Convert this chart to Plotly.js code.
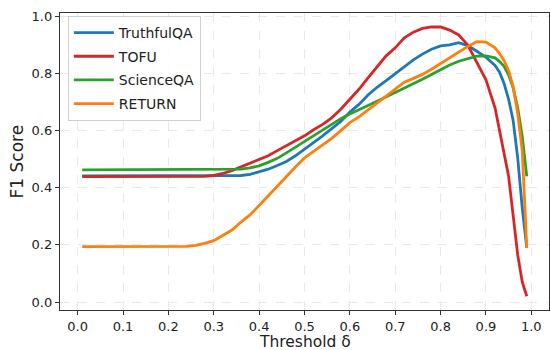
<!DOCTYPE html>
<html>
<head>
<meta charset="utf-8">
<script src="https://cdn.plot.ly/plotly-3.0.1.min.js"></script>
<style>html,body{margin:0;padding:0;background:#fff}#chart{width:550px;height:350px}</style>
</head>
<body>
<div id="chart"></div>
<script>
const thresholds = [0.01,0.05,0.10,0.15,0.20,0.22,0.24,0.26,0.28,0.30,0.32,0.34,0.36,0.38,0.40,0.42,0.44,0.46,0.48,0.50,0.52,0.54,0.56,0.58,0.60,0.62,0.64,0.66,0.68,0.70,0.72,0.74,0.76,0.78,0.80,0.82,0.84,0.86,0.88,0.90,0.92,0.93,0.94,0.95,0.96,0.97,0.98,0.99];

const truthfulQA = [0.442,0.442,0.442,0.442,0.442,0.442,0.442,0.442,0.442,0.442,0.442,0.442,0.443,0.447,0.455,0.465,0.478,0.492,0.512,0.535,0.557,0.582,0.607,0.632,0.665,0.692,0.725,0.752,0.775,0.800,0.825,0.848,0.868,0.885,0.897,0.900,0.908,0.898,0.878,0.857,0.828,0.805,0.765,0.710,0.635,0.505,0.330,0.190];

const tofu = [0.439,0.439,0.439,0.439,0.439,0.439,0.439,0.439,0.440,0.443,0.450,0.460,0.473,0.485,0.497,0.512,0.530,0.548,0.565,0.582,0.603,0.622,0.645,0.675,0.710,0.745,0.785,0.825,0.862,0.890,0.925,0.945,0.958,0.963,0.963,0.952,0.935,0.900,0.840,0.778,0.680,0.595,0.520,0.440,0.310,0.165,0.070,0.020];

const scienceQA = [0.463,0.463,0.463,0.463,0.463,0.463,0.463,0.463,0.463,0.463,0.463,0.463,0.465,0.470,0.477,0.489,0.503,0.522,0.542,0.563,0.585,0.605,0.625,0.642,0.658,0.672,0.688,0.703,0.718,0.733,0.748,0.763,0.780,0.797,0.815,0.830,0.843,0.853,0.861,0.862,0.855,0.842,0.825,0.795,0.750,0.680,0.580,0.440];

const returnSet = [0.194,0.194,0.194,0.194,0.194,0.194,0.195,0.198,0.205,0.215,0.233,0.252,0.280,0.305,0.338,0.372,0.408,0.440,0.473,0.505,0.527,0.550,0.573,0.600,0.628,0.648,0.672,0.695,0.720,0.745,0.770,0.783,0.797,0.815,0.835,0.858,0.877,0.895,0.912,0.910,0.890,0.870,0.845,0.810,0.754,0.660,0.530,0.190];

const seriesNames = ["TruthfulQA","TOFU","ScienceQA","RETURN"];
const seriesColors = ["#1f77b4","#d62728","#2ca02c","#ff7f0e"];
const seriesValues = [truthfulQA, tofu, scienceQA, returnSet];

const xTicks = [0,0.1,0.2,0.3,0.4,0.5,0.6,0.7,0.8,0.9,1.0];
const yTicks = [0,0.2,0.4,0.6,0.8,1.0];
const xTitle = "Threshold δ";
const yTitle = "F1 Score";

const traces = seriesValues.map((vals, i) => ({
  x: thresholds, y: vals, type: "scatter", mode: "lines",
  name: seriesNames[i], legendgroup: "g" + i,
  line: {color: seriesColors[i], width: 2.8}
}));

const font = "DejaVu Sans, sans-serif";
const axisCommon = {
  showline: true, mirror: true, linecolor: "#333", linewidth: 1.2,
  ticks: "outside", ticklen: 4, tickwidth: 1, tickcolor: "#333",
  showgrid: true, gridcolor: "#e3e3e3", gridwidth: 0.8, griddash: "dash",
  zeroline: false, tickfont: {family: font, size: 13, color: "#222"},
  tickformat: ".1f"
};

const layout = {
  width: 550, height: 350,
  margin: {l: 60, r: 1, t: 13, b: 40},
  paper_bgcolor: "#fff", plot_bgcolor: "#fff",
  font: {family: font, color: "#222"},
  xaxis: Object.assign({}, axisCommon, {range: [-0.039, 1.039], tickvals: xTicks}),
  yaxis: Object.assign({}, axisCommon, {range: [-0.028, 1.012], tickvals: yTicks}),
  annotations: [
    {text: xTitle, xref: "paper", yref: "paper", x: 0.5, y: -0.107,
     xanchor: "center", yanchor: "middle", showarrow: false, borderpad: 0,
     font: {family: font, size: 15.5, color: "#222"}},
    {text: yTitle, xref: "paper", yref: "paper", x: -0.088, y: 0.5,
     xanchor: "center", yanchor: "middle", textangle: -90, showarrow: false,
     font: {family: font, size: 17, color: "#222"}}
  ],
  showlegend: true,
  legend: {
    x: 0.016, y: 0.99, xanchor: "left", yanchor: "top",
    bgcolor: "rgba(255,255,255,0.85)", bordercolor: "#d0d0d0", borderwidth: 1,
    font: {family: font, size: 14, color: "#222"},
    tracegroupgap: 2.5, itemwidth: 40
  }
};

Plotly.newPlot("chart", traces, layout, {displayModeBar: false, staticPlot: true});
</script>
</body>
</html>
